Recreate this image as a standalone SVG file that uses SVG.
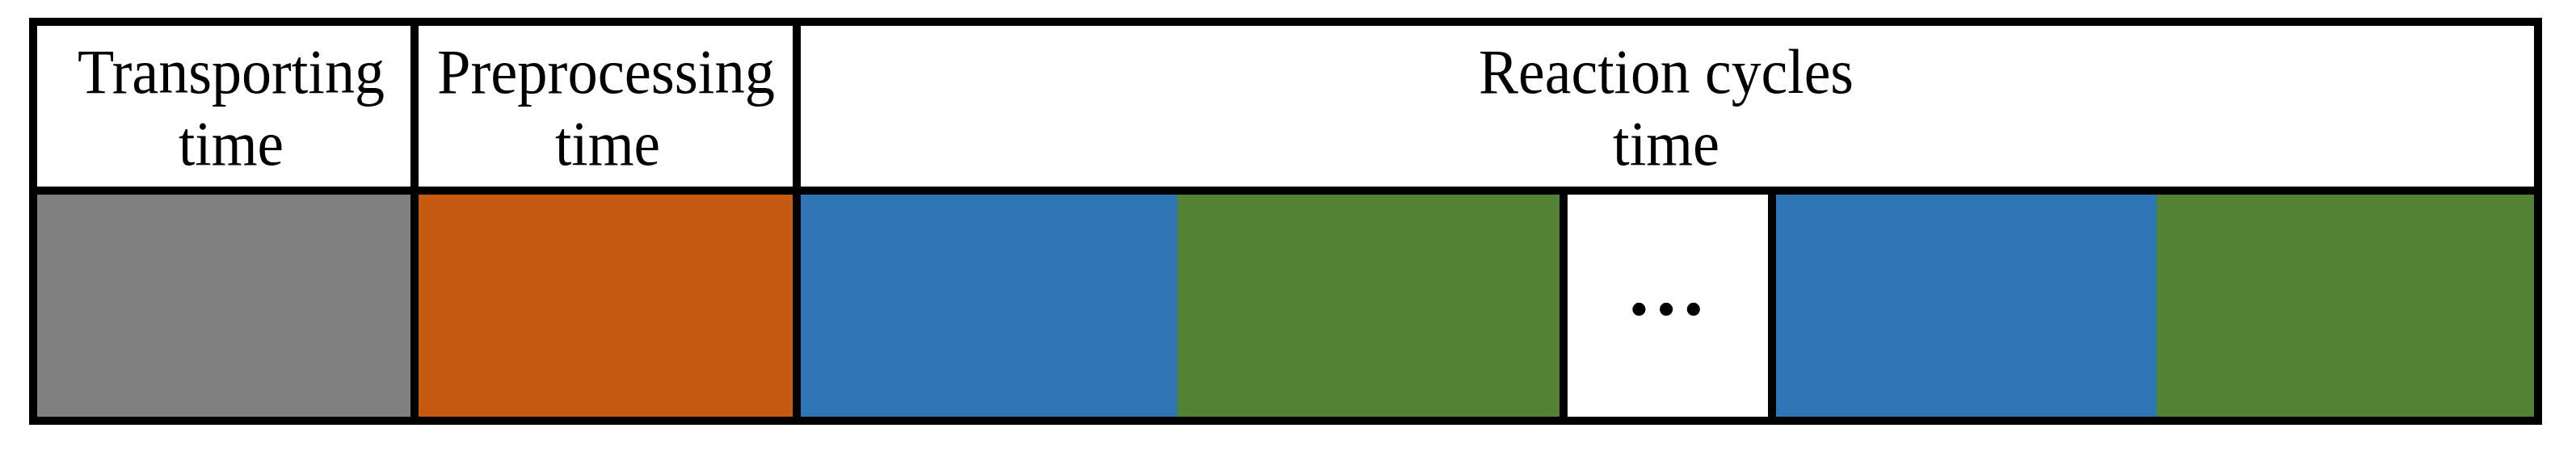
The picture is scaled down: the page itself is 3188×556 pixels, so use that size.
<svg xmlns="http://www.w3.org/2000/svg" width="3188" height="556" viewBox="0 0 3188 556">
<style>
.lbl{font-family:"Liberation Serif","Times New Roman",serif;font-size:79px;fill:#000;text-anchor:middle}
.dots{font-family:"Liberation Serif","Times New Roman",serif;font-size:100px;font-weight:bold;fill:#000;text-anchor:middle}
.bd{stroke:#000;stroke-width:10;fill:none}
</style>
<rect width="3188" height="556" fill="#fff"/>
<g id="header-transport">
<rect x="41" y="27" width="472" height="209" fill="#fff"/>
<text class="lbl" x="286" y="115" textLength="380" lengthAdjust="spacingAndGlyphs">Transporting</text>
<text class="lbl" x="286" y="204" textLength="130" lengthAdjust="spacingAndGlyphs">time</text>
</g>
<g id="header-preprocess">
<rect x="513" y="27" width="473" height="209" fill="#fff"/>
<text class="lbl" x="750" y="115" textLength="418" lengthAdjust="spacingAndGlyphs">Preprocessing</text>
<text class="lbl" x="752" y="204" textLength="130" lengthAdjust="spacingAndGlyphs">time</text>
</g>
<g id="header-reaction">
<rect x="986" y="27" width="2155" height="209" fill="#fff"/>
<text class="lbl" x="2062" y="115" textLength="464" lengthAdjust="spacingAndGlyphs">Reaction cycles</text>
<text class="lbl" x="2062" y="204" textLength="132" lengthAdjust="spacingAndGlyphs">time</text>
</g>
<g id="bar-transport"><rect x="41" y="236" width="472" height="285" fill="#808080"/></g>
<g id="bar-preprocess"><rect x="513" y="236" width="473" height="285" fill="#C55A11"/></g>
<g id="bar-cycle1-a"><rect x="986" y="236" width="471" height="285" fill="#2E75B6"/></g>
<g id="bar-cycle1-b"><rect x="1457" y="236" width="478" height="285" fill="#548235"/></g>
<g id="bar-ellipsis">
<rect x="1935" y="236" width="258" height="285" fill="#fff"/>
<text class="dots" x="2062" y="390">…</text>
</g>
<g id="bar-cycleN-a"><rect x="2193" y="236" width="476" height="285" fill="#2E75B6"/></g>
<g id="bar-cycleN-b"><rect x="2669" y="236" width="472" height="285" fill="#548235"/></g>
<g id="borders">
<rect class="bd" x="41" y="27" width="3100" height="494"/>
<line class="bd" x1="41" y1="236" x2="3141" y2="236"/>
<line class="bd" x1="513" y1="27" x2="513" y2="521"/>
<line class="bd" x1="986" y1="27" x2="986" y2="521"/>
<line class="bd" x1="1935" y1="236" x2="1935" y2="521"/>
<line class="bd" x1="2193" y1="236" x2="2193" y2="521"/>
</g>
</svg>
